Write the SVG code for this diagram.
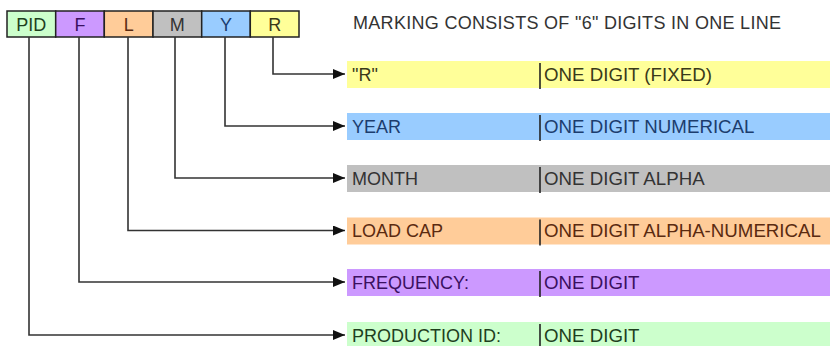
<svg xmlns="http://www.w3.org/2000/svg" width="830" height="346" viewBox="0 0 830 346">
<defs>
<marker id="arr" markerUnits="userSpaceOnUse" markerWidth="13" markerHeight="11" refX="12" refY="5" orient="auto">
<path d="M0,0 L12,5 L0,10 z" fill="#111"/>
</marker>
<style>
text{font-family:"Liberation Sans",Arial,sans-serif;font-size:18px}
.desc{font-size:18.7px}
.cell{stroke:#222;stroke-width:1.5}
.box{text-anchor:middle}
.conn{fill:none;stroke:#333;stroke-width:1.6;marker-end:url(#arr)}
.div{stroke:#222;stroke-width:1.6}
.cy{fill:#ffff99}.cb{fill:#99ccff}.cg{fill:#c0c0c0}.co{fill:#ffcc99}.cp{fill:#cc99ff}.cn{fill:#ccffcc}
.ty{fill:#3a3a1a}.tb{fill:#1c3d6e}.tg{fill:#333}.to{fill:#5a2a10}.tp{fill:#3a1060}.tn{fill:#1e3f1e}
</style>
</defs>
<rect width="830" height="346" fill="#fff"/>
<g id="code-box">
<rect class="cell cn" x="7" y="11" width="48.7" height="26"/>
<rect class="cell cp" x="55.7" y="11" width="48.6" height="26"/>
<rect class="cell co" x="104.3" y="11" width="48.7" height="26"/>
<rect class="cell cg" x="153" y="11" width="48.7" height="26"/>
<rect class="cell cb" x="201.7" y="11" width="48.6" height="26"/>
<rect class="cell cy" x="250.3" y="11" width="48.7" height="26"/>
<text class="box tn" x="31.3" y="30.5">PID</text>
<text class="box tp" x="80" y="30.5">F</text>
<text class="box to" x="128.7" y="30.5">L</text>
<text class="box tg" x="177.3" y="30.5">M</text>
<text class="box tb" x="226" y="30.5">Y</text>
<text class="box ty" x="274.7" y="30.5">R</text>
</g>
<text id="title" x="353" y="29" fill="#333" textLength="428">MARKING CONSISTS OF "6" DIGITS IN ONE LINE</text>
<g id="connectors">
<path class="conn" d="M273,37 V74 H345"/>
<path class="conn" d="M225,37 V126 H345"/>
<path class="conn" d="M175,37 V178 H345"/>
<path class="conn" d="M128,37 V230.5 H345"/>
<path class="conn" d="M79,37 V282 H345"/>
<path class="conn" d="M29,37 V335 H345"/>
</g>
<g id="row-r">
<rect class="cy" x="347" y="61" width="483" height="27"/>
<line class="div" x1="540" y1="63" x2="540" y2="89"/>
<text class="ty" x="352" y="80.5">"R"</text>
<text class="ty desc" x="544" y="80.5">ONE DIGIT (FIXED)</text>
</g>
<g id="row-year">
<rect class="cb" x="347" y="113" width="483" height="27"/>
<line class="div" x1="540" y1="115" x2="540" y2="141"/>
<text class="tb" x="352" y="132.5">YEAR</text>
<text class="tb desc" x="544" y="132.5">ONE DIGIT NUMERICAL</text>
</g>
<g id="row-month">
<rect class="cg" x="347" y="165" width="483" height="27"/>
<line class="div" x1="540" y1="167" x2="540" y2="193"/>
<text class="tg" x="352" y="184.5">MONTH</text>
<text class="tg desc" x="544" y="184.5">ONE DIGIT ALPHA</text>
</g>
<g id="row-load">
<rect class="co" x="347" y="217.5" width="483" height="27"/>
<line class="div" x1="540" y1="219.5" x2="540" y2="245.5"/>
<text class="to" x="352" y="237">LOAD CAP</text>
<text class="to desc" x="544" y="237">ONE DIGIT ALPHA-NUMERICAL</text>
</g>
<g id="row-freq">
<rect class="cp" x="347" y="269" width="483" height="27"/>
<line class="div" x1="540" y1="271" x2="540" y2="297"/>
<text class="tp" x="352" y="288.5">FREQUENCY:</text>
<text class="tp desc" x="544" y="288.5">ONE DIGIT</text>
</g>
<g id="row-prod">
<rect class="cn" x="347" y="322" width="483" height="27"/>
<line class="div" x1="540" y1="324" x2="540" y2="346"/>
<text class="tn" x="352" y="341.5">PRODUCTION ID:</text>
<text class="tn desc" x="544" y="341.5">ONE DIGIT</text>
</g>
</svg>
